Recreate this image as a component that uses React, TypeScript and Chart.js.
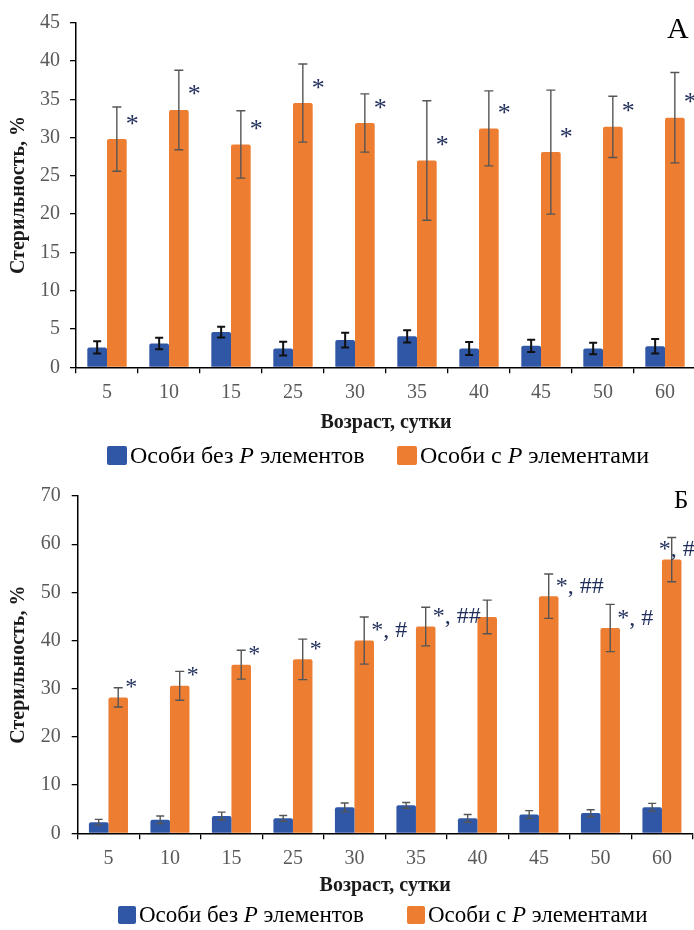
import React, { useEffect, useRef } from "react";
import { Chart, registerables } from "chart.js";

Chart.register(...registerables);

// ---------- data ----------
const ages = ["5", "10", "15", "25", "30", "35", "40", "45", "50", "60"];
const seriesNames = ["Особи без P элементов", "Особи с P элементами"];
const yTitle = "Стерильность, %";
const xTitle = "Возраст, сутки";

// Panel А
const aMax = 45;
const aStep = 5;
const aWithout = [2.6, 3.1, 4.6, 2.45, 3.55, 4.05, 2.45, 2.8, 2.45, 2.75];
const aWithoutErr = [0.8, 0.75, 0.7, 0.9, 0.95, 0.8, 0.85, 0.8, 0.75, 0.95];
const aWith = [29.8, 33.6, 29.1, 34.5, 31.9, 27.0, 31.2, 28.1, 31.4, 32.6];
const aWithErr = [4.2, 5.2, 4.4, 5.1, 3.8, 7.8, 4.9, 8.1, 4.0, 5.9];
const aMarks = ["*", "*", "*", "*", "*", "*", "*", "*", "*", "*"];

// Panel Б
const bMax = 70;
const bStep = 10;
const bWithout = [2.3, 2.8, 3.6, 3.1, 5.4, 5.8, 3.1, 3.9, 4.2, 5.4];
const bWithoutErr = [0.6, 0.8, 0.8, 0.6, 0.9, 0.6, 0.8, 0.8, 0.7, 0.8];
const bWith = [28.2, 30.6, 35.0, 36.1, 40.0, 42.9, 44.9, 49.2, 42.6, 56.8];
const bWithErr = [2.0, 3.0, 3.0, 4.2, 4.9, 4.0, 3.5, 4.6, 4.9, 4.6];
const bMarks = ["*", "*", "*", "*", "*, #", "*, ##", "", "*, ##", "*, #", "*, ##"];

// ---------- styles ----------
const BLUE = "#3057A5";
const ORANGE = "#ED7D31";
const SERIF = "'Liberation Serif', 'Times New Roman', Times, serif";
const TICK_COLOR = "#595959";
const TITLE_COLOR = "#1a1a1a";
const MARK_COLOR = "#1F2D5A";

const errorBarPlugin = {
  id: "errorBars",
  afterDatasetsDraw(chart: any) {
    const ctx = chart.ctx;
    const ys = chart.scales.y;
    chart.data.datasets.forEach((ds: any, i: number) => {
      const meta = chart.getDatasetMeta(i);
      meta.data.forEach((el: any, j: number) => {
        const v = ds.data[j];
        const e = ds.errors[j];
        const x = el.x;
        const y1 = ys.getPixelForValue(v + e);
        const y2 = ys.getPixelForValue(v - e);
        const c = ds.errCap / 2;
        ctx.save();
        ctx.strokeStyle = ds.errColor;
        ctx.lineWidth = ds.errWidth;
        ctx.beginPath();
        ctx.moveTo(x, y1);
        ctx.lineTo(x, y2);
        ctx.moveTo(x - c, y1);
        ctx.lineTo(x + c, y1);
        ctx.moveTo(x - c, y2);
        ctx.lineTo(x + c, y2);
        ctx.stroke();
        ctx.restore();
      });
    });
  },
};

const marksPlugin = {
  id: "marks",
  afterDatasetsDraw(chart: any, _args: any, o: any) {
    const ctx = chart.ctx;
    const ds = chart.data.datasets[1];
    const meta = chart.getDatasetMeta(1);
    ctx.save();
    ctx.font = `${o.size}px ${SERIF}`;
    ctx.fillStyle = MARK_COLOR;
    ctx.textAlign = "left";
    ctx.textBaseline = "alphabetic";
    meta.data.forEach((el: any, j: number) => {
      const t = ds.marks[j];
      if (!t) return;
      let x = el.x + o.dx;
      const w = ctx.measureText(t).width;
      if (x + w > chart.width) x = el.x + o.dxAlt;
      ctx.fillText(t, x, el.y + o.dy);
    });
    ctx.restore();
  },
};

function splitItalicP(label: string) {
  const idx = label.indexOf(" P ");
  if (idx < 0) return [{ t: label, i: false }];
  return [
    { t: label.slice(0, idx + 1), i: false },
    { t: "P", i: true },
    { t: label.slice(idx + 2), i: false },
  ];
}

const decorPlugin = {
  id: "decor",
  afterDraw(chart: any, _args: any, o: any) {
    const ctx = chart.ctx;
    ctx.save();
    // panel letter
    ctx.fillStyle = "#000";
    ctx.textAlign = "left";
    ctx.textBaseline = "alphabetic";
    ctx.font = `${o.letterSize}px ${SERIF}`;
    ctx.fillText(o.letter, o.letterX, o.letterY);
    // legend
    chart.data.datasets.forEach((ds: any, i: number) => {
      const x0 = o.legendX[i];
      ctx.fillStyle = ds.backgroundColor;
      ctx.beginPath();
      const bx = x0;
      const by = o.legendBaseline - o.boxH + 2;
      if (ctx.roundRect) ctx.roundRect(bx, by, o.boxW, o.boxH, 2);
      else ctx.rect(bx, by, o.boxW, o.boxH);
      ctx.fill();
      let tx = x0 + o.boxW + 3;
      ctx.fillStyle = "#000";
      for (const part of splitItalicP(ds.label)) {
        ctx.font = `${part.i ? "italic " : ""}${o.legendSize}px ${SERIF}`;
        ctx.fillText(part.t, tx, o.legendBaseline);
        tx += ctx.measureText(part.t).width;
      }
    });
    ctx.restore();
  },
};

type Panel = {
  max: number;
  step: number;
  without: number[];
  withoutErr: number[];
  withV: number[];
  withErr: number[];
  marks: string[];
  padTop: number;
  padRight: number;
  xAxisH: number;
  yAxisW: number;
  yTickPad: number;
  xTitlePad: number;
  blueErrColor: string;
  blueErrWidth: number;
  marksOpt: any;
  decor: any;
};

const panelA: Panel = {
  max: aMax,
  step: aStep,
  without: aWithout,
  withoutErr: aWithoutErr,
  withV: aWith,
  withErr: aWithErr,
  marks: aMarks,
  padTop: 22.7,
  padRight: 4,
  xAxisH: 102.7,
  yAxisW: 76,
  yTickPad: 10,
  xTitlePad: 35,
  blueErrColor: "#111",
  blueErrWidth: 2,
  marksOpt: { size: 26, dx: 9, dxAlt: 9, dy: -7.5 },
  decor: {
    letter: "А",
    letterX: 667,
    letterY: 38,
    letterSize: 30,
    legendX: [107, 397],
    legendBaseline: 463,
    legendSize: 24,
    boxW: 20,
    boxH: 19,
  },
};

const panelB: Panel = {
  max: bMax,
  step: bStep,
  without: bWithout,
  withoutErr: bWithoutErr,
  withV: bWith,
  withErr: bWithErr,
  marks: bMarks,
  padTop: 26,
  padRight: 7.3,
  xAxisH: 96.7,
  yAxisW: 77.7,
  yTickPad: 11,
  xTitlePad: 32,
  blueErrColor: "#555",
  blueErrWidth: 1.4,
  marksOpt: { size: 24, dx: 7, dxAlt: -13, dy: -3.5 },
  decor: {
    letter: "Б",
    letterX: 674,
    letterY: 38.3,
    letterSize: 25,
    legendX: [118, 407],
    legendBaseline: 452,
    legendSize: 23,
    boxW: 18,
    boxH: 18,
  },
};

function buildConfig(p: Panel): any {
  return {
    type: "bar",
    data: {
      labels: ages,
      datasets: [
        {
          label: seriesNames[0],
          data: p.without,
          errors: p.withoutErr,
          errColor: p.blueErrColor,
          errWidth: p.blueErrWidth,
          errCap: 8,
          backgroundColor: BLUE,
          borderRadius: 2,
          categoryPercentage: 0.635,
          barPercentage: 1,
        },
        {
          label: seriesNames[1],
          data: p.withV,
          errors: p.withErr,
          marks: p.marks,
          errColor: "#555",
          errWidth: 1.4,
          errCap: 9,
          backgroundColor: ORANGE,
          borderRadius: 2,
          categoryPercentage: 0.635,
          barPercentage: 1,
        },
      ],
    },
    options: {
      responsive: false,
      animation: false,
      events: [],
      layout: { padding: { left: 0, top: p.padTop, right: p.padRight, bottom: 0 } },
      plugins: {
        legend: { display: false },
        tooltip: { enabled: false },
        marks: p.marksOpt,
        decor: p.decor,
      },
      scales: {
        x: {
          grid: {
            display: true,
            drawOnChartArea: false,
            drawTicks: true,
            tickLength: 6,
            color: "#000",
            lineWidth: 1.3,
            offset: true,
          },
          border: { display: true, color: "#000", width: 1.5 },
          ticks: {
            font: { family: SERIF, size: 20 },
            color: TICK_COLOR,
            padding: 7,
            maxRotation: 0,
            autoSkip: false,
          },
          title: {
            display: true,
            text: xTitle,
            font: { family: SERIF, size: 20, weight: "bold" },
            color: TITLE_COLOR,
            padding: { top: 0, bottom: p.xTitlePad },
          },
          afterFit: (s: any) => {
            s.height = p.xAxisH;
          },
        },
        y: {
          min: 0,
          max: p.max,
          ticks: {
            stepSize: p.step,
            font: { family: SERIF, size: 20 },
            color: TICK_COLOR,
            padding: p.yTickPad,
          },
          grid: {
            display: true,
            drawOnChartArea: false,
            drawTicks: true,
            tickLength: 6,
            color: "#000",
            lineWidth: 1.3,
          },
          border: { display: true, color: "#000", width: 1.5 },
          title: {
            display: true,
            text: yTitle,
            font: { family: SERIF, size: 20, weight: "bold" },
            color: TITLE_COLOR,
            padding: { top: 7, bottom: 0 },
          },
          afterFit: (s: any) => {
            s.width = p.yAxisW;
          },
        },
      },
    },
    plugins: [errorBarPlugin, marksPlugin, decorPlugin],
  };
}

export default function App() {
  const refA = useRef<HTMLCanvasElement>(null);
  const refB = useRef<HTMLCanvasElement>(null);
  useEffect(() => {
    const ca = new Chart(refA.current as HTMLCanvasElement, buildConfig(panelA));
    const cb = new Chart(refB.current as HTMLCanvasElement, buildConfig(panelB));
    return () => {
      ca.destroy();
      cb.destroy();
    };
  }, []);
  return (
    <div
      style={{
        position: "absolute",
        left: 0,
        top: 0,
        width: 694,
        height: 930,
        overflow: "hidden",
        background: "#fff",
      }}
    >
      <canvas ref={refA} width={700} height={470} style={{ position: "absolute", left: 0, top: 0 }} />
      <canvas ref={refB} width={700} height={460} style={{ position: "absolute", left: 0, top: 470 }} />
    </div>
  );
}
